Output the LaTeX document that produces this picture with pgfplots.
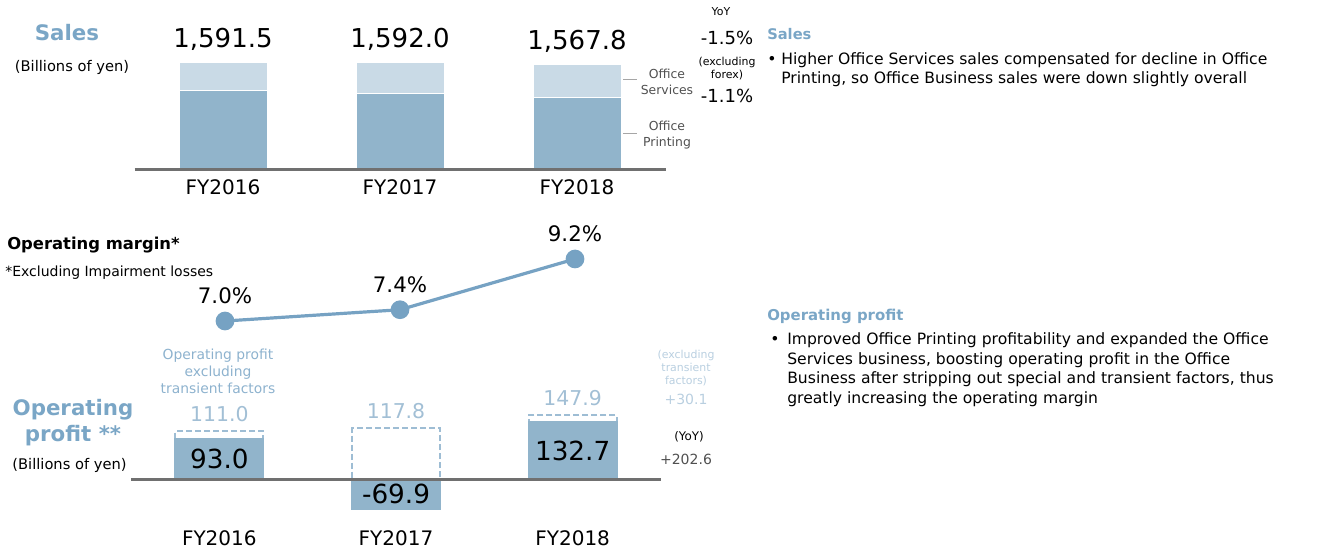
\documentclass[border=0pt]{standalone}
\usepackage{fontspec}
\setmainfont{DejaVu Sans}
\usepackage{pgfplots}
\pgfplotsset{compat=1.18}
\newcommand\fs[2]{\fontsize{#1}{#2}\selectfont}
\definecolor{printc}{HTML}{91B4CB}
\definecolor{servc}{HTML}{C9DAE6}
\definecolor{headc}{HTML}{7AA6C6}
\definecolor{linec}{HTML}{76A2C3}
\definecolor{dashc}{HTML}{9EBDD4}
\definecolor{lightc}{HTML}{A2BFD5}
\definecolor{optxt}{HTML}{8DB2CE}
\definecolor{paleC}{HTML}{B9CFE0}
\definecolor{axisc}{HTML}{707070}
\definecolor{txtgray}{HTML}{505050}
\begin{document}
\begin{tikzpicture}
\path[use as bounding box] (0,0) rectangle (989.25pt,-415.5pt);

% sales, stacked bars
\begin{axis}[at={(100.875pt,-126.75pt)}, anchor=south west, scale only axis,
  width=398.25pt, height=82.5pt, xmin=-0.5, xmax=2.5, ymin=0, ymax=1650,
  ybar stacked, bar width=66pt, axis on top, clip=false,
  axis x line*=bottom, axis y line=none,
  x axis line style={axisc, line width=2.25pt, -},
  xtick={0,1,2}, xticklabels={FY2016,FY2017,FY2018}, major tick length=0pt,
  xticklabel style={font=\fs{15}{17}, yshift=-4.5pt}]
\addplot[fill=printc, draw=white, line width=0.75pt] coordinates {(0,1171) (1,1140) (2,1080)};
\addplot[fill=servc, draw=white, line width=0.75pt] coordinates {(0,420.5) (1,452) (2,487.8)};
\end{axis}
% totals, same geometry, not stacked
\begin{axis}[at={(100.875pt,-126.75pt)}, anchor=south west, scale only axis,
  width=398.25pt, height=82.5pt, xmin=-0.5, xmax=2.5, ymin=0, ymax=1650,
  hide axis, clip=false]
\addplot[draw=none, mark=none, nodes near coords, point meta=explicit symbolic,
  every node near coord/.append style={font=\fs{19.5}{22}, text=black, anchor=center, yshift=17.6pt}]
  coordinates {(0,1591.5)[1{,}591.5] (1,1592.0)[1{,}592.0] (2,1567.8)[1{,}567.8]};
\end{axis}

% operating margin
\begin{axis}[at={(103.125pt,-261.9pt)}, anchor=south west, scale only axis,
  width=393.75pt, height=84.6pt, xmin=-0.5, xmax=2.5, ymin=6, ymax=10,
  hide axis, clip=false]
\addplot[linec, line width=2.4pt, mark=*, mark size=5.8pt, mark options={solid, fill=linec},
  /pgf/number format/assume math mode=true,
  nodes near coords={\pgfmathprintnumber[fixed,fixed zerofill,precision=1]{\pgfplotspointmeta}\%},
  every node near coord/.append style={font=\fs{16}{18}, text=black, anchor=center, yshift=19pt}]
  coordinates {(0,7.0) (1,7.4) (2,9.2)};
\end{axis}

% operating profit
\begin{axis}[at={(98.25pt,-385.05pt)}, anchor=south west, scale only axis,
  width=397.5pt, height=77.4pt, xmin=-0.5, xmax=2.5, ymin=-80, ymax=160,
  axis on top, clip=false, hide obscured x ticks=false,
  axis x line=middle, axis y line=none,
  x axis line style={axisc, line width=2.25pt, -},
  xtick={0,1,2}, xticklabels={FY2016,FY2017,FY2018}, major tick length=0pt,
  xticklabel style={font=\fs{15}{17}, yshift=-35.25pt},
  /pgf/number format/assume math mode=true]
\addplot[ybar, bar width=66pt, bar shift=0pt, draw=dashc, fill=none, line width=1.5pt,
  dash pattern=on 4.5pt off 2.25pt,
  nodes near coords={\pgfmathprintnumber[fixed,fixed zerofill,precision=1]{\pgfplotspointmeta}},
  every node near coord/.append style={font=\fs{15.3}{17}, text=lightc, solid, yshift=3.4pt}]
  coordinates {(0,111.0) (1,117.8) (2,147.9)};
\addplot[ybar, bar width=66pt, bar shift=0pt, draw=printc, line width=1.5pt, fill=printc]
  coordinates {(0,93.0) (1,-69.9) (2,132.7)};
\addplot[draw=none, mark=none, nodes near coords, point meta=explicit symbolic,
  every node near coord/.append style={font=\fs{19.7}{22}, text=black, anchor=center}]
  coordinates {(0,46.5)[93.0] (1,-34.95)[-69.9] (2,66.35)[132.7]};
\end{axis}

\begin{scope}[x=0.75pt, y=-0.75pt, every node/.style={inner sep=0pt}]
\node[font=\bfseries\fs{16}{19}, text=headc] at (67,33) {Sales};
\node[font=\fs{11}{13}] at (72,67) {(Billions of yen)};
\node[font=\fs{8.2}{10}] at (721,12) {YoY};
\node[font=\fs{13.5}{15}] at (727,38) {-1.5\%};
\node[font=\fs{8.2}{9.75}, align=center] at (727,68.5) {(excluding\\forex)};
\node[font=\fs{13.5}{15}] at (727,96) {-1.1\%};
\node[font=\fs{9.3}{12}, text=txtgray, align=center] at (667,81.5) {Office\\Services};
\node[font=\fs{9.3}{12}, text=txtgray, align=center] at (667,135.5) {Office\\Printing};
\draw[gray!70, line width=0.75pt] (623,79.3) -- (637,79.3) (623,133.3) -- (637,133.3);

\node[font=\bfseries\fs{12.3}{14}, anchor=base west] at (7,249.3) {Operating margin*};
\node[font=\fs{10.5}{12}, anchor=base west] at (5,276) {*Excluding Impairment losses};
\node[font=\fs{10.4}{12.75}, text=optxt, align=center] at (218,371) {Operating profit\\excluding\\transient factors};
\node[font=\bfseries\fs{16}{19.5}, text=headc, align=center] at (73,423) {Operating\\profit **};
\node[font=\fs{11}{13}] at (69.5,465) {(Billions of yen)};
\node[font=\fs{8.2}{9.75}, text=paleC, align=center] at (686,368.5) {(excluding\\transient\\factors)};
\node[font=\fs{10.5}{13}, text=paleC] at (686,399) {+30.1};
\node[font=\fs{8.9}{11}] at (689,437) {(YoY)};
\node[font=\fs{10.5}{13}, text=txtgray] at (686,459) {+202.6};

\node[font=\bfseries\fs{11}{13}, text=headc, anchor=base west] at (767,39.3) {Sales};
\node[font=\fs{11.7}{13}, anchor=base west] at (767,64.3) {•};
\node[font=\fs{11.7}{13}, anchor=base west] at (781,64.3) {Higher Office Services sales compensated for decline in Office};
\node[font=\fs{11.7}{13}, anchor=base west] at (781,83.3) {Printing, so Office Business sales were down slightly overall};

\node[font=\bfseries\fs{11.2}{13}, text=headc, anchor=base west] at (767,320) {Operating profit};
\node[font=\fs{11.7}{13}, anchor=base west] at (770,344.3) {•};
\node[font=\fs{11.7}{13}, anchor=base west] at (787,344.3) {Improved Office Printing profitability and expanded the Office};
\node[font=\fs{11.7}{13}, anchor=base west] at (787,364) {Services business, boosting operating profit in the Office};
\node[font=\fs{11.7}{13}, anchor=base west] at (787,383.7) {Business after stripping out special and transient factors, thus};
\node[font=\fs{11.7}{13}, anchor=base west] at (787,403.4) {greatly increasing the operating margin};
\end{scope}
\end{tikzpicture}
\end{document}
